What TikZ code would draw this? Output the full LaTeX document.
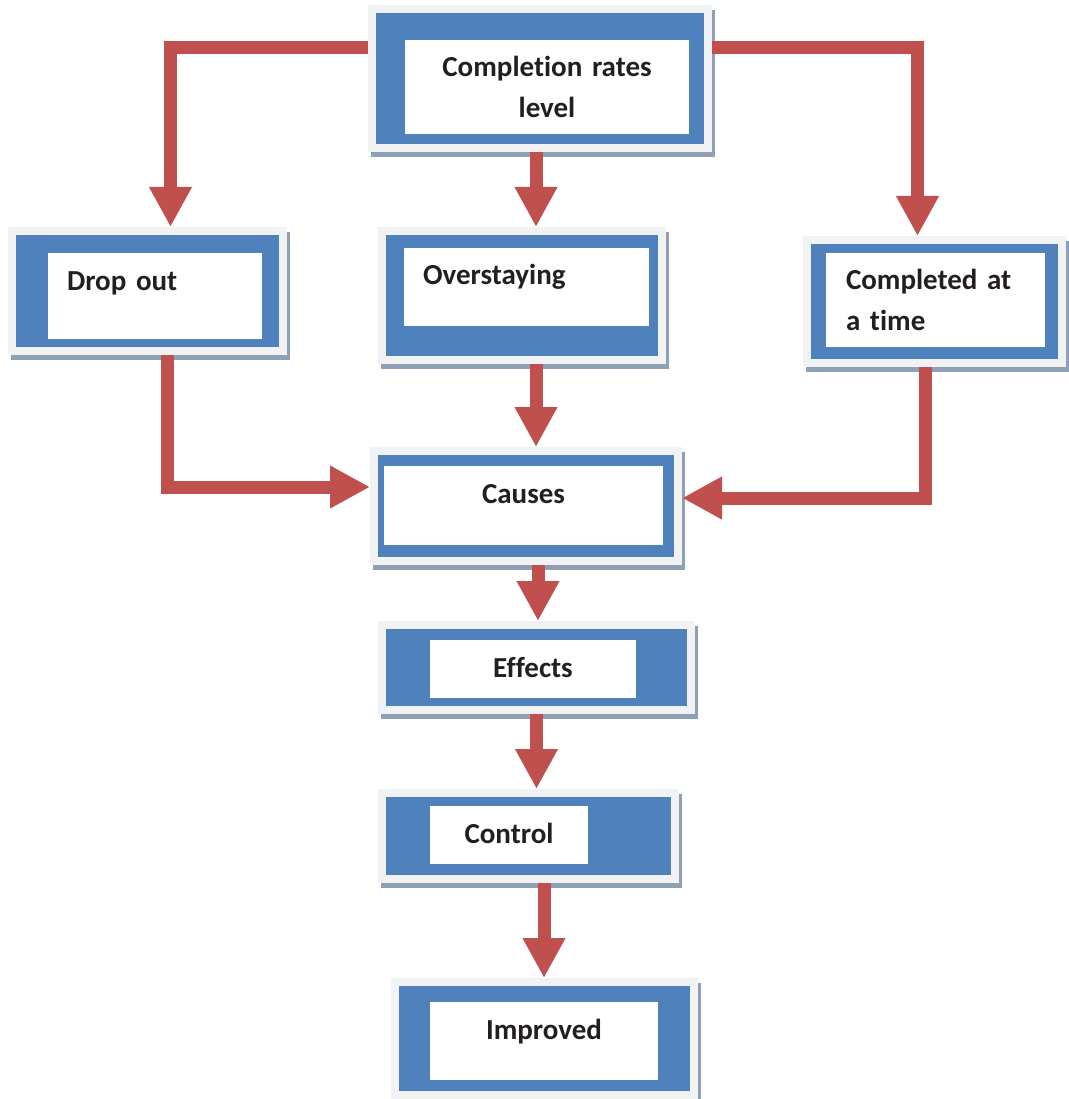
\documentclass[tikz,border=0pt]{standalone}
\usepackage{fontspec}
\setmainfont{Carlito}[Ligatures=NoCommon, Contextuals=NoAlternate]
\usetikzlibrary{arrows.meta,shadows}
\definecolor{boxblue}{HTML}{4F81BD}
\definecolor{framegray}{HTML}{F1F2F4}
\definecolor{shadowgray}{HTML}{8FA0B4}
\definecolor{arrowred}{HTML}{C0504D}
\definecolor{textdark}{HTML}{231F20}
\begin{document}
\begin{tikzpicture}[
    x=1pt, y=-1pt,
    frame/.style={rectangle, fill=boxblue, draw=framegray, line width=8pt, inner sep=0pt, outer sep=4pt,
      drop shadow={shadow xshift=3pt, shadow yshift=-5pt, fill=shadowgray, draw=shadowgray, line width=8pt, opacity=1}},
    inbox/.style={rectangle, fill=white, inner sep=0pt, text height=37pt, text=textdark,
      font=\bfseries\fontsize{29pt}{41pt}\selectfont},
    arrow/.style={draw=arrowred, line width=13pt, -{Triangle[length=40pt, width=40pt]}}
]
\useasboundingbox (0,0) rectangle (1068,1099);

% Top level
\node[frame, minimum width=336pt, minimum height=139pt] (rates) at (540,78.5) {};
\node[inbox, text width=284pt, align=center, text depth=57pt] (ratesin) at (547,87) {Completion rates\\level};

% Three outcomes
\node[frame, minimum width=271pt, minimum height=120pt] (drop) at (147.5,291) {};
\node[inbox, inner xsep=19pt, text width=176pt, text depth=49pt] (dropin) at (155,296) {Drop out};

\node[frame, minimum width=280pt, minimum height=129pt] (over) at (522,295.5) {};
\node[inbox, inner xsep=19pt, text width=207pt, text depth=41pt] (overin) at (526.5,286.5) {Overstaying};

\node[frame, minimum width=255pt, minimum height=123pt] (compl) at (934.5,301.5) {};
\node[inbox, inner xsep=20pt, text width=179pt, text depth=57pt] (complin) at (935.5,299.5) {Completed at\\a time};

% Chain
\node[frame, minimum width=304pt, minimum height=110pt] (causes) at (526,506) {};
\node[inbox, text width=279pt, align=center, text depth=42pt] (causesin) at (523.5,505.5) {Causes};

\node[frame, minimum width=309pt, minimum height=85pt] (effects) at (536.5,667.5) {};
\node[inbox, text width=206pt, align=center, text depth=21pt] (effectsin) at (533,669) {Effects};

\node[frame, minimum width=293pt, minimum height=86pt] (control) at (528.5,836) {};
\node[inbox, text width=158pt, align=center, text depth=21pt] (controlin) at (509,835) {Control};

\node[frame, minimum width=299pt, minimum height=113pt] (improved) at (544.5,1038.5) {};
\node[inbox, text width=228pt, align=center, text depth=41pt] (improvedin) at (544,1041) {Improved};

% Connections
\draw[arrow] ([yshift=31pt]rates.west) -| ([xshift=23pt]drop.north);
\draw[arrow] ([xshift=-4pt]rates.south) -- ([xshift=-4pt]rates.south |- over.north);
\draw[arrow] ([yshift=31pt]rates.east) -| ([xshift=-17pt]compl.north);

\draw[arrow] ([xshift=20pt]drop.south) |- ([yshift=19pt]causes.west);
\draw[arrow] ([xshift=14pt]over.south) -- ([xshift=14pt]over.south |- causes.north);
\draw[arrow] ([xshift=-9pt]compl.south) |- ([yshift=8pt]causes.east);

\draw[arrow] ([xshift=12pt]causes.south) -- ([xshift=12pt]causes.south |- effects.north);
\draw[arrow] (effects.south) -- (effects.south |- control.north);
\draw[arrow] ([xshift=15.5pt]control.south) -- ([xshift=15.5pt]control.south |- improved.north);

\end{tikzpicture}
\end{document}
